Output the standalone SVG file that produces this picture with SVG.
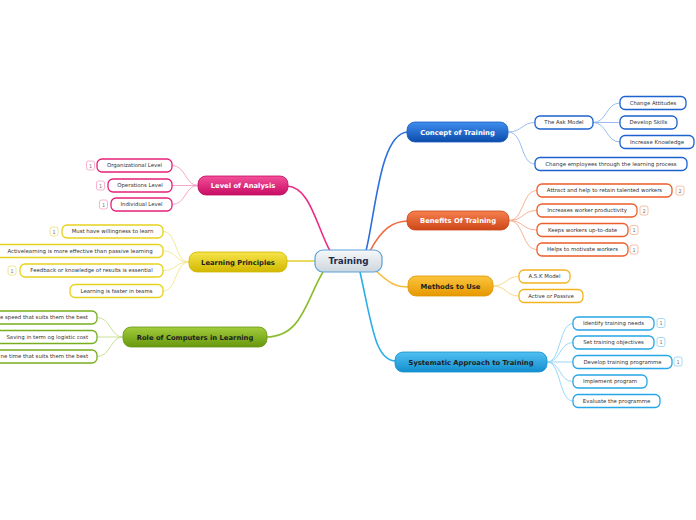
<svg xmlns="http://www.w3.org/2000/svg" width="696" height="520" viewBox="0 0 696 520">
<defs>
<linearGradient id="gC" x1="0" y1="0" x2="0" y2="1"><stop offset="0" stop-color="#3f8ef0"/><stop offset="1" stop-color="#0c4caa"/></linearGradient>
<linearGradient id="gB" x1="0" y1="0" x2="0" y2="1"><stop offset="0" stop-color="#f6804e"/><stop offset="1" stop-color="#cf4718"/></linearGradient>
<linearGradient id="gM" x1="0" y1="0" x2="0" y2="1"><stop offset="0" stop-color="#fbc640"/><stop offset="1" stop-color="#e69800"/></linearGradient>
<linearGradient id="gS" x1="0" y1="0" x2="0" y2="1"><stop offset="0" stop-color="#52c0f2"/><stop offset="1" stop-color="#128fcf"/></linearGradient>
<linearGradient id="gL" x1="0" y1="0" x2="0" y2="1"><stop offset="0" stop-color="#f4509a"/><stop offset="1" stop-color="#c80c64"/></linearGradient>
<linearGradient id="gP" x1="0" y1="0" x2="0" y2="1"><stop offset="0" stop-color="#f6e44a"/><stop offset="1" stop-color="#d2b800"/></linearGradient>
<linearGradient id="gR" x1="0" y1="0" x2="0" y2="1"><stop offset="0" stop-color="#a2cc3c"/><stop offset="1" stop-color="#68980e"/></linearGradient>
<linearGradient id="gT" x1="0" y1="0" x2="0" y2="1"><stop offset="0" stop-color="#f6f8fa"/><stop offset="1" stop-color="#cdd6de"/></linearGradient>
</defs>
<style>
text{font-family:"DejaVu Sans","Verdana",sans-serif}
.main{font-size:6.8px;font-weight:bold;text-anchor:middle}
.w{fill:#ffffff}
.d{fill:#1e1e1e}
.sub{font-size:5.4px;fill:#333333;text-anchor:middle}
.bt{font-size:5px;fill:#777777;text-anchor:middle}
.sr{fill:#ffffff;stroke-width:1.3}
.bd{fill:#ffffff;stroke-width:0.8}
.cn{fill:none;stroke-width:0.9}
.mc{fill:none;stroke-width:1.6}
</style>

<g id="connectors">
<path class="mc" d="M366,251 C376,210 380,133 408,132" stroke="#2a6fdc"/>
<path class="mc" d="M370,251 C382,228 394,221 408,221" stroke="#f06a3c"/>
<path class="mc" d="M375,270 C390,284 396,287 409,287" stroke="#f6bc3a"/>
<path class="mc" d="M360,272 C372,325 375,361 396,361" stroke="#28aee8"/>
<path class="mc" d="M330,251 C316,225 310,187 287,186" stroke="#ec2c84"/>
<path class="mc" d="M316,261 L287,261" stroke="#e6d23a"/>
<path class="mc" d="M323,272 C306,300 302,337 266,337" stroke="#8cbc2c"/>

<g stroke="#8fb6ec">
<path class="cn" d="M508,132 C522,132 522,122.5 535,122.5"/>
<path class="cn" d="M508,132 C524,132 520,164 535,164"/>
<path class="cn" d="M593,122.5 C607,122.5 606,103 620,103"/>
<path class="cn" d="M593,122.5 L620,122.5"/>
<path class="cn" d="M593,122.5 C607,122.5 606,142 620,142"/>
</g>
<g stroke="#f5a888">
<path class="cn" d="M509,220.5 C524,220.5 522,190.5 537,190.5"/>
<path class="cn" d="M509,220.5 C524,220.5 522,210.5 537,210.5"/>
<path class="cn" d="M509,220.5 C524,220.5 522,230 537,230"/>
<path class="cn" d="M509,220.5 C524,220.5 522,249.5 537,249.5"/>
</g>
<g stroke="#f8d27e">
<path class="cn" d="M493,286 C506,286 506,276.5 519,276.5"/>
<path class="cn" d="M493,286 C506,286 506,296 519,296"/>
</g>
<g stroke="#90d4f4">
<path class="cn" d="M547,362 C561,362 559,323.5 573,323.5"/>
<path class="cn" d="M547,362 C561,362 559,342.5 573,342.5"/>
<path class="cn" d="M547,362 L573,362"/>
<path class="cn" d="M547,362 C561,362 559,381.5 573,381.5"/>
<path class="cn" d="M547,362 C561,362 559,401 573,401"/>
</g>
<g stroke="#f49cc6">
<path class="cn" d="M198,185.5 C185,185.5 186,165.5 172,165.5"/>
<path class="cn" d="M198,185.5 L172,185.5"/>
<path class="cn" d="M198,185.5 C185,185.5 186,204.5 172,204.5"/>
</g>
<g stroke="#f0e48c">
<path class="cn" d="M189,262 C175,262 177,231.5 163,231.5"/>
<path class="cn" d="M189,262 C175,262 177,251 163,251"/>
<path class="cn" d="M189,262 C175,262 177,270.5 163,270.5"/>
<path class="cn" d="M189,262 C175,262 177,291 163,291"/>
</g>
<g stroke="#c2de8c">
<path class="cn" d="M123,337 C110,337 111,317.5 97,317.5"/>
<path class="cn" d="M123,337 L97,337"/>
<path class="cn" d="M123,337 C110,337 111,356.5 97,356.5"/>
</g>
</g>

<g id="training">
<rect x="315" y="250" width="67" height="22" rx="8" fill="url(#gT)" stroke="#5aa0d8" stroke-width="1.2"/>
<text x="348.5" y="264.3" style="font-size:8.8px;font-weight:bold;fill:#1b2c4e;text-anchor:middle">Training</text>
</g>

<g id="concept">
<rect x="407" y="122" width="101" height="20" rx="8" fill="url(#gC)" stroke="#1a5cc0" stroke-width="0.8"/>
<text class="main w" x="457.5" y="134.5">Concept of Training</text>
</g>
<g id="ask-model"><rect class="sr" x="535" y="116" width="58" height="13" rx="5" stroke="#1c62d0"/><text class="sub" x="564" y="124.4">The Ask Model</text></g>
<g id="change-attitudes"><rect class="sr" x="620" y="96.5" width="66" height="13" rx="5" stroke="#1c62d0"/><text class="sub" x="653" y="104.9">Change Attitudes</text></g>
<g id="develop-skills"><rect class="sr" x="620" y="116" width="57" height="13" rx="5" stroke="#1c62d0"/><text class="sub" x="648.5" y="124.4">Develop Skills</text></g>
<g id="increase-knowledge"><rect class="sr" x="620" y="135.5" width="74" height="13" rx="5" stroke="#1c62d0"/><text class="sub" x="657" y="143.9">Increase Knowledge</text></g>
<g id="change-employees"><rect class="sr" x="535" y="157.5" width="152" height="13" rx="5" stroke="#1c62d0"/><text class="sub" x="611" y="165.9">Change employees through the learning process</text></g>

<g id="benefits">
<rect x="407" y="211" width="102" height="19" rx="8" fill="url(#gB)" stroke="#c8461a" stroke-width="0.8"/>
<text class="main w" x="458" y="223">Benefits Of Training</text>
</g>
<g id="attract"><rect class="sr" x="537" y="184" width="135" height="13" rx="5" stroke="#ec5e28"/><text class="sub" x="604.5" y="192.4">Attract and help to retain talented workers</text>
<rect class="bd" x="676" y="186" width="8" height="9" rx="2" stroke="#f5b094"/><text class="bt" x="680" y="192.6">2</text></g>
<g id="productivity"><rect class="sr" x="537" y="204" width="100" height="13" rx="5" stroke="#ec5e28"/><text class="sub" x="587" y="212.4">Increases worker productivity</text>
<rect class="bd" x="640" y="206" width="8" height="9" rx="2" stroke="#f5b094"/><text class="bt" x="644" y="212.6">2</text></g>
<g id="up-to-date"><rect class="sr" x="537" y="223.5" width="91" height="13" rx="5" stroke="#ec5e28"/><text class="sub" x="582.5" y="231.9">Keeps workers up-to-date</text>
<rect class="bd" x="630" y="225.5" width="8" height="9" rx="2" stroke="#f5b094"/><text class="bt" x="634" y="232.1">1</text></g>
<g id="motivate"><rect class="sr" x="537" y="243" width="91" height="13" rx="5" stroke="#ec5e28"/><text class="sub" x="582.5" y="251.4">Helps to motivate workers</text>
<rect class="bd" x="630" y="245" width="8" height="9" rx="2" stroke="#f5b094"/><text class="bt" x="634" y="251.6">1</text></g>

<g id="methods">
<rect x="408" y="276" width="85" height="20" rx="8" fill="url(#gM)" stroke="#e09400" stroke-width="0.8"/>
<text class="main d" x="450.5" y="288.5">Methods to Use</text>
</g>
<g id="ask"><rect class="sr" x="519" y="270" width="51" height="13" rx="5" stroke="#f4b220"/><text class="sub" x="544.5" y="278.4">A.S.K Model</text></g>
<g id="active-passive"><rect class="sr" x="519" y="289.5" width="64" height="13" rx="5" stroke="#f4b220"/><text class="sub" x="551" y="297.9">Active or Passive</text></g>

<g id="systematic">
<rect x="395" y="352" width="152" height="20" rx="8" fill="url(#gS)" stroke="#1590d0" stroke-width="0.8"/>
<text class="main d" x="471" y="364.5">Systematic Approach to Training</text>
</g>
<g id="identify"><rect class="sr" x="573" y="317" width="81" height="13" rx="5" stroke="#26a6e6"/><text class="sub" x="613.5" y="325.4">Identify training needs</text>
<rect class="bd" x="657" y="318.5" width="8" height="9" rx="2" stroke="#8ed2f2"/><text class="bt" x="661" y="325.1">1</text></g>
<g id="objectives"><rect class="sr" x="573" y="336" width="81" height="13" rx="5" stroke="#26a6e6"/><text class="sub" x="613.5" y="344.4">Set training objectives</text>
<rect class="bd" x="657" y="337.5" width="8" height="9" rx="2" stroke="#8ed2f2"/><text class="bt" x="661" y="344.1">1</text></g>
<g id="develop"><rect class="sr" x="573" y="355.5" width="99" height="13" rx="5" stroke="#26a6e6"/><text class="sub" x="622.5" y="363.9">Develop training programme</text>
<rect class="bd" x="674" y="357" width="8" height="9" rx="2" stroke="#8ed2f2"/><text class="bt" x="678" y="363.6">1</text></g>
<g id="implement"><rect class="sr" x="573" y="375" width="74" height="13" rx="5" stroke="#26a6e6"/><text class="sub" x="610" y="383.4">Implement program</text></g>
<g id="evaluate"><rect class="sr" x="573" y="394.5" width="87" height="13" rx="5" stroke="#26a6e6"/><text class="sub" x="616.5" y="402.9">Evaluate the programme</text></g>

<g id="level">
<rect x="198" y="176" width="90" height="19" rx="8" fill="url(#gL)" stroke="#c00c60" stroke-width="0.8"/>
<text class="main w" x="243" y="188">Level of Analysis</text>
</g>
<g id="organizational"><rect class="sr" x="97" y="159" width="75" height="13" rx="5" stroke="#e6207a"/><text class="sub" x="134.5" y="167.4">Organizational Level</text>
<rect class="bd" x="86.5" y="161" width="8" height="9" rx="2" stroke="#f4a0c8"/><text class="bt" x="90.5" y="167.6">1</text></g>
<g id="operations"><rect class="sr" x="108" y="179" width="64" height="13" rx="5" stroke="#e6207a"/><text class="sub" x="140" y="187.4">Operations Level</text>
<rect class="bd" x="96.5" y="181" width="8" height="9" rx="2" stroke="#f4a0c8"/><text class="bt" x="100.5" y="187.6">1</text></g>
<g id="individual"><rect class="sr" x="111" y="198" width="61" height="13" rx="5" stroke="#e6207a"/><text class="sub" x="141.5" y="206.4">Individual Level</text>
<rect class="bd" x="99.5" y="200" width="8" height="9" rx="2" stroke="#f4a0c8"/><text class="bt" x="103.5" y="206.6">1</text></g>

<g id="principles">
<rect x="189" y="252" width="98" height="20" rx="8" fill="url(#gP)" stroke="#d0b600" stroke-width="0.8"/>
<text class="main d" x="238" y="264.5">Learning Principles</text>
</g>
<g id="willingness"><rect class="sr" x="62" y="225" width="101" height="13" rx="5" stroke="#e6d21c"/><text class="sub" x="112.5" y="233.4">Must have willingness to learn</text>
<rect class="bd" x="50" y="227" width="8" height="9" rx="2" stroke="#efe07a"/><text class="bt" x="54" y="233.6">1</text></g>
<g id="activelearning"><rect class="sr" x="-6" y="244.5" width="169" height="13" rx="5" stroke="#e6d21c"/><text class="sub" x="80" y="252.9">Activelearning is more effective than passive learning</text></g>
<g id="feedback"><rect class="sr" x="20" y="264" width="143" height="13" rx="5" stroke="#e6d21c"/><text class="sub" x="91.5" y="272.4">Feedback or knowledge of results is essential</text>
<rect class="bd" x="8" y="266" width="8" height="9" rx="2" stroke="#efe07a"/><text class="bt" x="12" y="272.6">1</text></g>
<g id="teams"><rect class="sr" x="70" y="284.5" width="93" height="13" rx="5" stroke="#e6d21c"/><text class="sub" x="116.5" y="292.9">Learning is faster in teams</text></g>

<g id="computers">
<rect x="123" y="327" width="144" height="20" rx="8" fill="url(#gR)" stroke="#669610" stroke-width="0.8"/>
<text class="main d" x="195" y="339.5">Role of Computers in Learning</text>
</g>
<g id="speed"><rect class="sr" x="-20" y="311" width="117" height="13" rx="5" stroke="#78ae1e"/><text class="sub" x="88" y="319.4" style="text-anchor:end">e speed that suits them the best</text></g>
<g id="saving"><rect class="sr" x="-6" y="330.5" width="103" height="13" rx="5" stroke="#78ae1e"/><text class="sub" x="88" y="338.9" style="text-anchor:end">Saving in term og logistic cost</text></g>
<g id="time"><rect class="sr" x="-20" y="350" width="117" height="13" rx="5" stroke="#78ae1e"/><text class="sub" x="88" y="358.4" style="text-anchor:end">ne time that suits them the best</text></g>
</svg>
